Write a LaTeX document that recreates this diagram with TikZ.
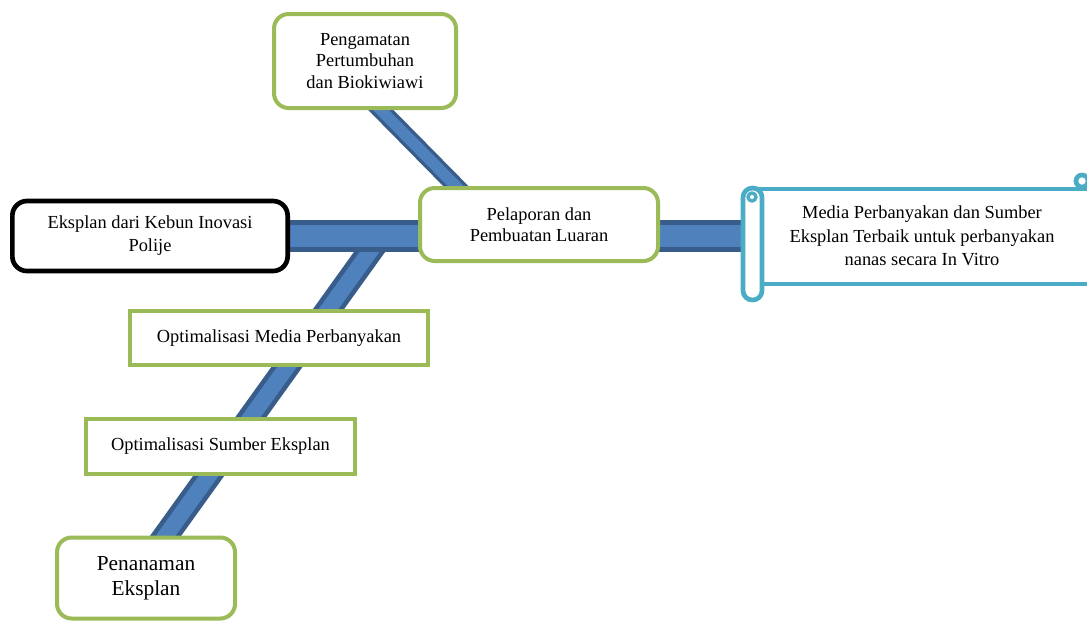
\documentclass[tikz,border=0pt]{standalone}
\usepackage{fontspec}
\setmainfont{Liberation Serif}
\usetikzlibrary{positioning,backgrounds,calc}
\definecolor{leafgreen}{HTML}{9BBB59}
\definecolor{bonefill}{HTML}{4F81BD}
\definecolor{boneedge}{HTML}{385D8A}
\definecolor{scrollblue}{HTML}{4BACC6}

\begin{document}
\begin{tikzpicture}[x=0.75pt,y=-0.75pt,
    greenbox/.style={rectangle,rounded corners=11pt,draw=leafgreen,line width=3pt,fill=white,align=center,inner sep=2pt,font=\fontsize{13.8}{15.8}\selectfont},
    greenrect/.style={greenbox,sharp corners},
    blackbox/.style={greenbox,draw=black,line width=3.5pt},
    bone/.style={draw=boneedge,double=bonefill,line width=4pt,double distance=16.5pt},
    twig/.style={draw=boneedge,double=bonefill,line width=2.5pt,double distance=8.5pt},
    scroll/.style={draw=scrollblue,line width=3.5pt,fill=white}
    ]
    \useasboundingbox (0,0) rectangle (1087,622);

    \node[greenbox,minimum width=136.5pt,minimum height=70.5pt] (pengamatan) at (365,61) {Pengamatan\\Pertumbuhan\\dan Biokiwiawi};
    \node[blackbox,minimum width=206.5pt,minimum height=52.5pt,font=\fontsize{13.8}{17.2}\selectfont] (eksplan) at (150,236) {Eksplan dari Kebun Inovasi\\Polije};
    \node[greenbox,minimum width=178.5pt,minimum height=54.75pt] (pelaporan) at (539,224.5) {Pelaporan dan\\Pembuatan Luaran};
    \node[greenrect,minimum width=223.5pt,minimum height=40.5pt] (optmedia) at (279,338) {Optimalisasi Media Perbanyakan};
    \node[greenrect,minimum width=201.75pt,minimum height=41.25pt] (optsumber) at (220.5,446.5) {Optimalisasi Sumber Eksplan};
    \node[greenbox,minimum width=133.5pt,minimum height=60.75pt,font=\fontsize{16}{19}\selectfont] (penanaman) at (146,578) {Penanaman\\Eksplan};
    \node[align=center,minimum width=247.5pt,minimum height=70.5pt,font=\fontsize{13.8}{17.6}\selectfont] (media) at (922,236) {Media Perbanyakan dan Sumber\\Eksplan Terbaik untuk perbanyakan\\nanas secara In Vitro};
    \coordinate (fork) at (381,236);

    \begin{scope}[on background layer]
        \draw[twig] ($(pengamatan.center)+(5,38)$) -- ($(pelaporan.center)+(-67,-22)$);
        \draw[twig,line width=3.5pt,double distance=12pt] (fork) -- ($(penanaman.center)+(13,-33)$);
        \draw[bone] (eksplan.east) -- (media.west);
    \end{scope}

    % scroll around the result
    \draw[scroll] (757,189) -- (1087,189);
    \draw[scroll] (757,284) -- (1087,284);
    \draw[scroll] (1082,181) circle[radius=4.5pt];
    \draw[scroll,rounded corners=7pt] (743,188) rectangle (762,300);
    \draw[scroll,line width=2.5pt] (752,197) circle[radius=3pt];
\end{tikzpicture}
\end{document}
